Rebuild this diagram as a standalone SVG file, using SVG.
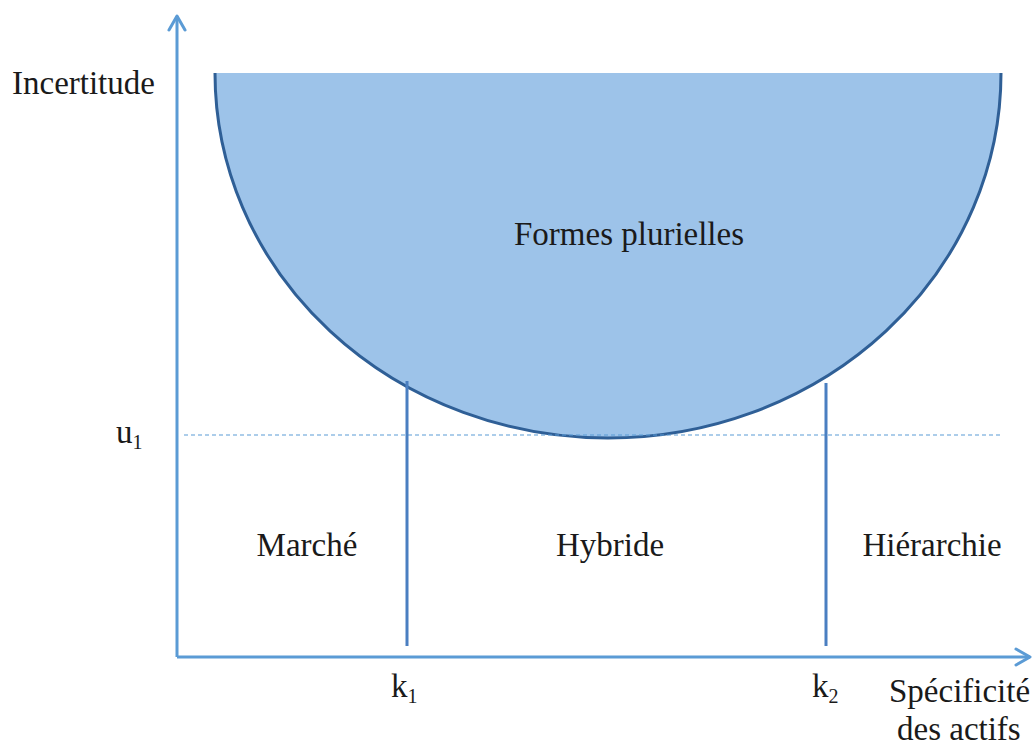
<svg xmlns="http://www.w3.org/2000/svg" width="1035" height="747" viewBox="0 0 1035 747">
<style>
text{font-family:"Liberation Serif","Times New Roman",serif;font-size:33px;fill:#1a1a1a}
.sub{font-size:20px}
.axis{stroke:#5b9bd5;stroke-width:3;fill:none}
.div{stroke:#4a7fc1;stroke-width:3;fill:none}
</style>
<defs>
<marker id="arr" viewBox="0 0 20 20" refX="18" refY="10" markerWidth="20" markerHeight="20" markerUnits="userSpaceOnUse" orient="auto">
<path d="M4,2 L18,10 L4,18" fill="none" stroke="#5b9bd5" stroke-width="3" stroke-linecap="round" stroke-linejoin="round"/>
</marker>
</defs>
<g id="zone">
<path d="M215,73 A393,365 0 0 0 1001,73 Z" fill="#9dc3e9"/>
<path d="M215,73 A393,365 0 0 0 1001,73" fill="none" stroke="#2f5f96" stroke-width="3"/>
<text x="629" y="245" text-anchor="middle">Formes plurielles</text>
</g>
<g id="connectors">
<line class="axis" x1="177" y1="657" x2="177" y2="16" marker-end="url(#arr)"/>
<line class="axis" x1="177" y1="657" x2="1030" y2="657" marker-end="url(#arr)"/>
<line x1="184" y1="435" x2="1000" y2="435" stroke="#5b9bd5" stroke-width="1.2" stroke-dasharray="4,3"/>
<line class="div" x1="407" y1="381" x2="407" y2="646"/>
<line class="div" x1="826" y1="383" x2="826" y2="646"/>
</g>
<g id="labels">
<text x="12" y="94">Incertitude</text>
<text x="116" y="443">u<tspan class="sub" dy="6">1</tspan></text>
<text x="307" y="556" text-anchor="middle">Marché</text>
<text x="610" y="556" text-anchor="middle">Hybride</text>
<text x="932" y="556" text-anchor="middle">Hiérarchie</text>
<text x="391" y="697">k<tspan class="sub" dy="6">1</tspan></text>
<text x="812" y="697">k<tspan class="sub" dy="6">2</tspan></text>
<text x="889" y="702">Spécificité</text>
<text x="897" y="740">des actifs</text>
</g>
</svg>
